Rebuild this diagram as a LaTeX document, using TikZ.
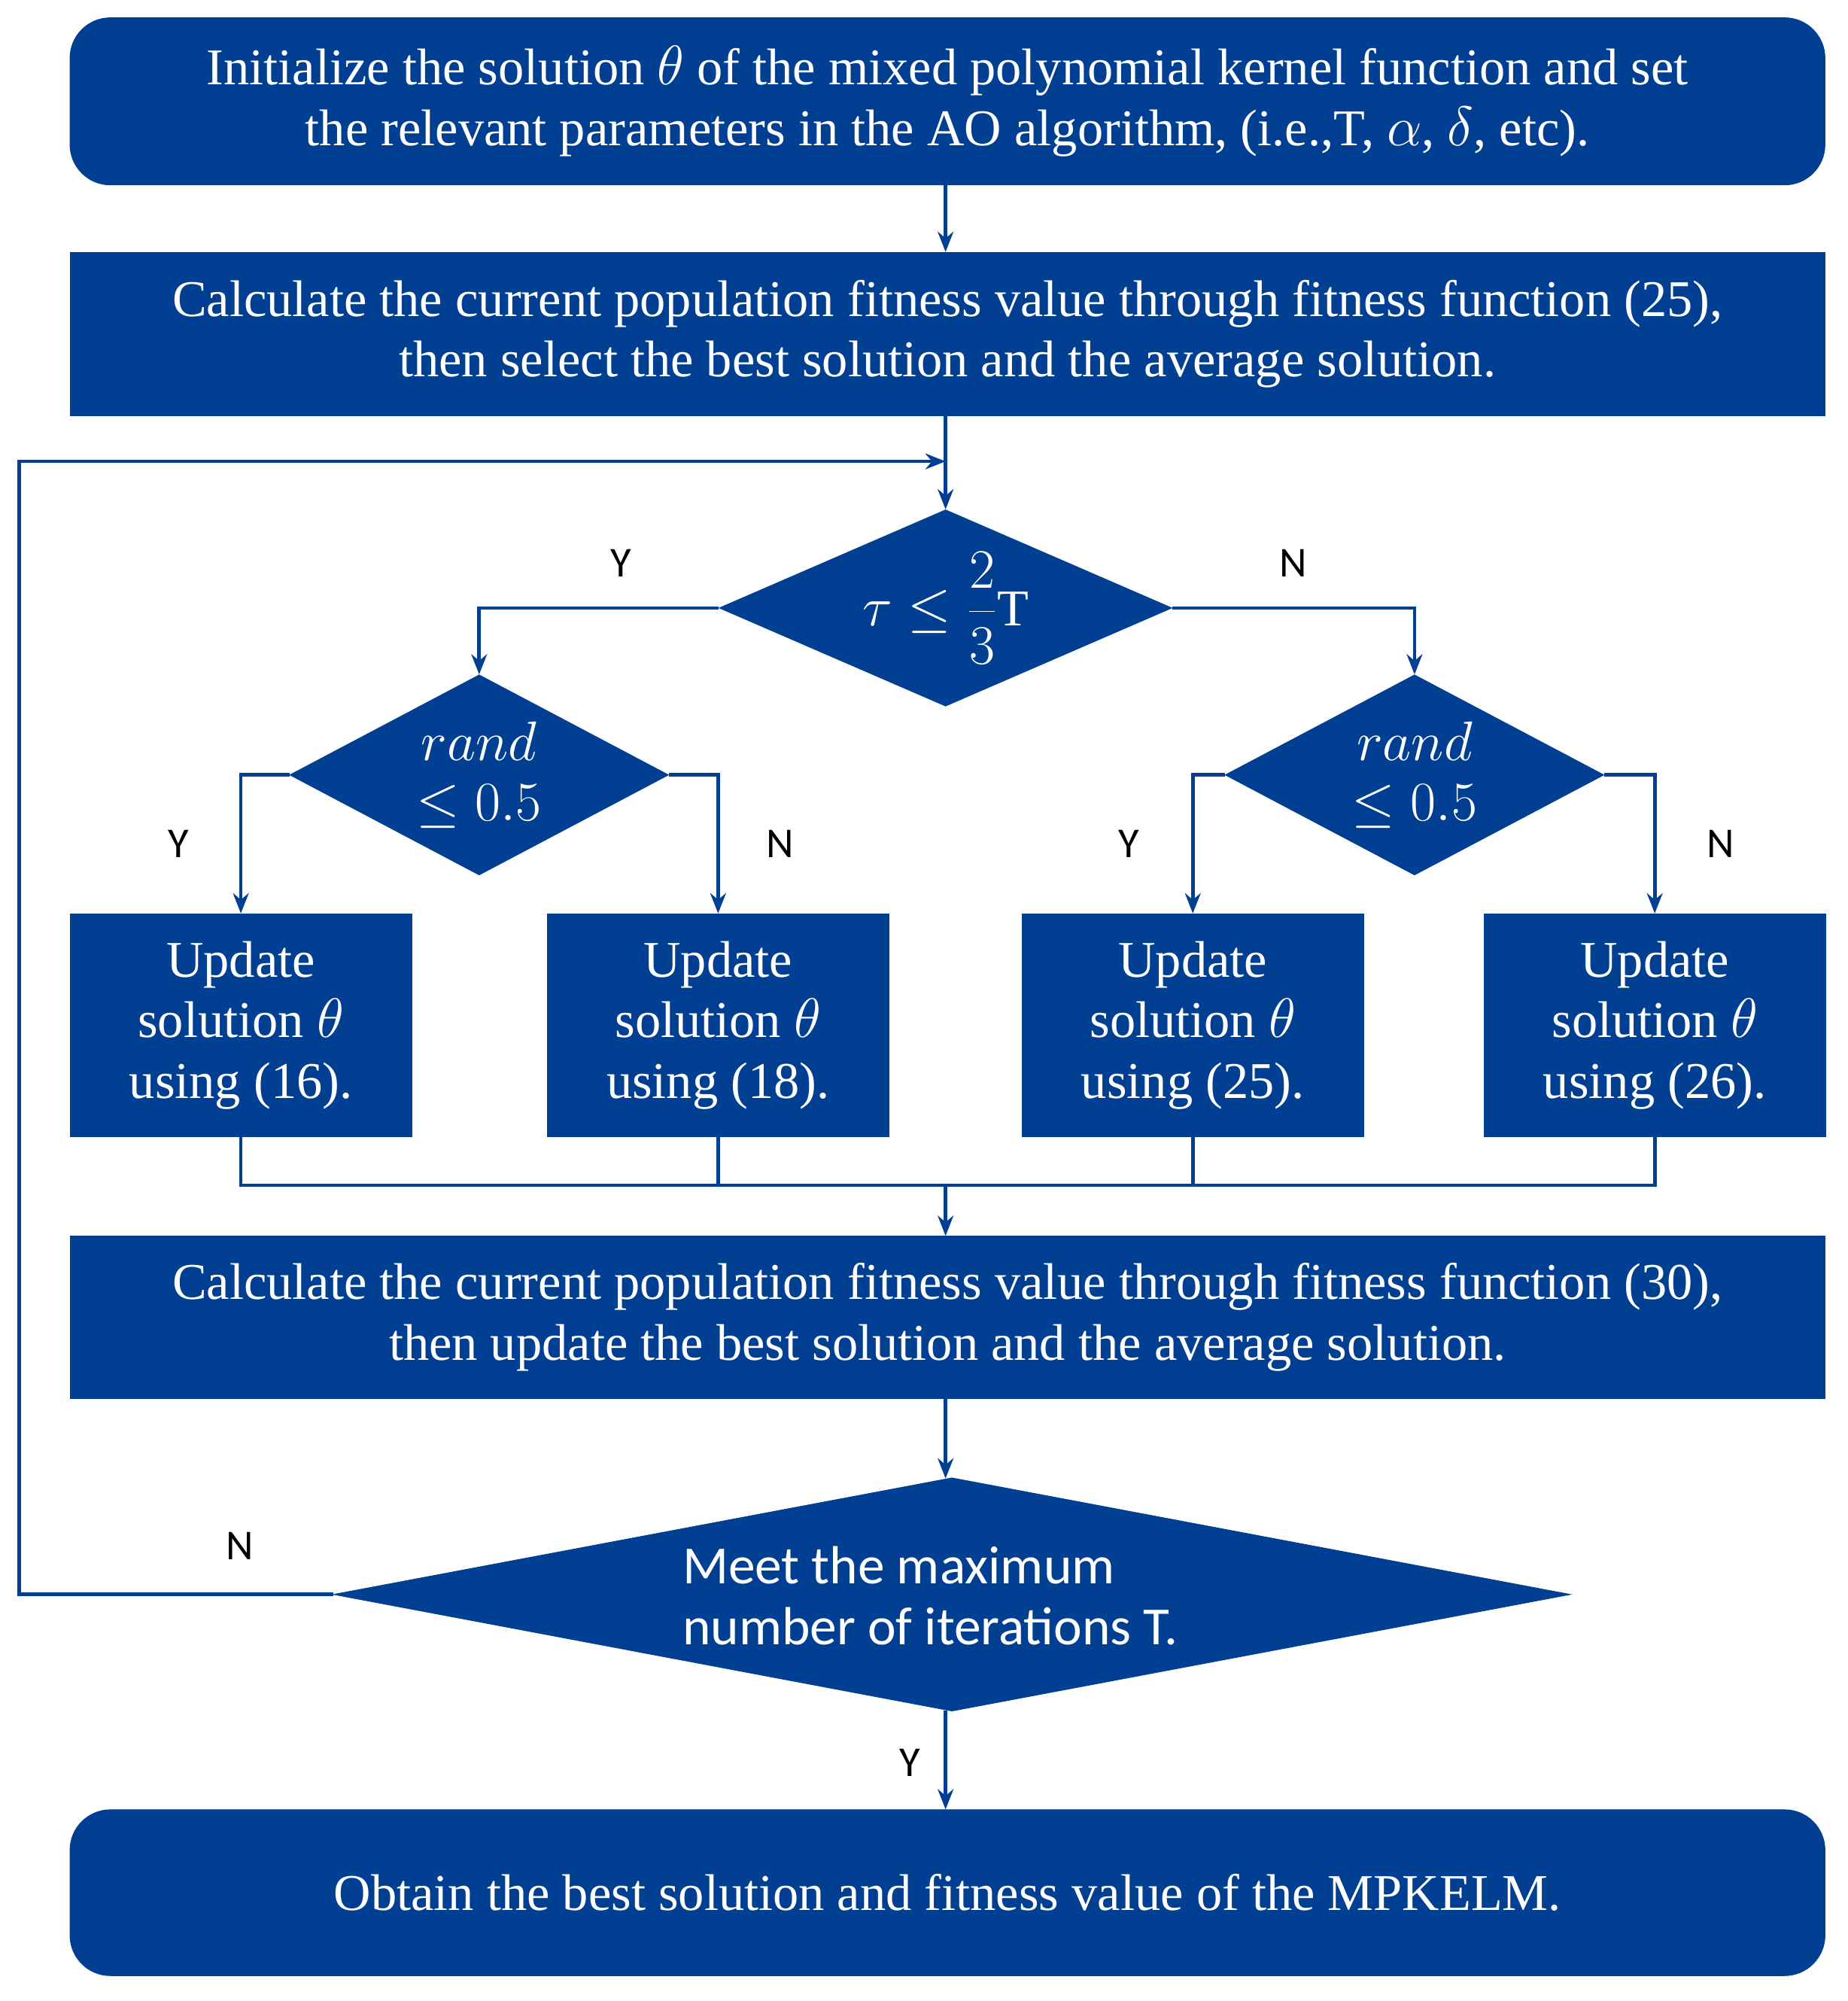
\documentclass[tikz,border=0pt]{standalone}
\usepackage{fontspec}
\setmainfont{Liberation Serif}
\newfontfamily\sansf{Carlito}
\usetikzlibrary{shapes.geometric,arrows.meta}
\definecolor{db}{HTML}{003F91}
\begin{document}
\begin{tikzpicture}[x=0.02cm,y=-0.02cm,
  box/.style={fill=db,draw=db,text=white,inner sep=0,align=center,font=\fontsize{23}{27}\selectfont},
  dia/.style={diamond,fill=db,draw=db,text=white,inner sep=0,aspect=1,align=center},
  lbl/.style={font=\sansf\fontsize{19}{22}\selectfont},
  ln/.style={draw=db,line width=1.6pt},
  ar/.style={ln,-{Stealth[length=9pt,width=7pt]}}]
\useasboundingbox (0,0) rectangle (1450,1570);
\node[box,rounded corners=18pt,minimum width=1377*0.02cm,minimum height=131*0.02cm] (b1) at (743.5,79.5) {Initialize the solution $\theta$ of the mixed polynomial kernel function and set\\the relevant parameters in the AO algorithm, (i.e.,T, $\alpha$, $\delta$, etc).};
\node[box,minimum width=1377*0.02cm,minimum height=128*0.02cm] (b2) at (743.5,262) {Calculate the current population fitness value through fitness function (25),\\then select the best solution and the average solution.};
\node[dia,minimum width=355*0.02cm,minimum height=154*0.02cm] (d1) at (742,477) {};
\node[text=white,font=\fontsize{23}{27}\selectfont] at (742,477) {$\tau \le \displaystyle\frac{2}{3}$T};
\node[dia,minimum width=297*0.02cm,minimum height=157*0.02cm] (d2) at (376,608) {};
\node[dia,minimum width=297*0.02cm,minimum height=157*0.02cm] (d3) at (1110,608) {};
\foreach \n/\x in {a/376,b/1110}
  \node[text=white,align=center,font=\fontsize{23}{27}\selectfont] at (\x,608) {$rand$\\$\le 0.5$};
\foreach \n/\x/\t in {u1/189/16,u2/563.5/18,u3/936/25,u4/1298.5/26}
  \node[box,minimum width=268*0.02cm,minimum height=175*0.02cm] (\n) at (\x,804.5) {Update\\solution $\theta$\\using (\t).};
\node[box,minimum width=1377*0.02cm,minimum height=127*0.02cm] (b3) at (743.5,1033.5) {Calculate the current population fitness value through fitness function (30),\\then update the best solution and the average solution.};
\node[dia,minimum width=970*0.02cm,minimum height=183*0.02cm] (d4) at (747,1251) {};
\node[text=white,align=left,font=\sansf\fontsize{24}{27}\selectfont] at (730,1252) {Meet the maximum\\number of iterations T.};
\node[box,rounded corners=18pt,minimum width=1377*0.02cm,minimum height=130*0.02cm] (b4) at (743.5,1485) {Obtain the best solution and fitness value of the MPKELM.};
\coordinate (j) at (742,362);
\coordinate (m) at (742,930);
\draw[ar] (b1.south -| 742,0) -- (b2.north -| 742,0);
\draw[ln] (b2.south -| 742,0) -- (j);
\draw[ar] (j) -- (d1.north);
\draw[ar] (d1.west) -| (d2.north);
\draw[ar] (d1.east) -| (d3.north);
\draw[ar] (d2.west) -| (u1.north);
\draw[ar] (d2.east) -| (u2.north);
\draw[ar] (d3.west) -| (u3.north);
\draw[ar] (d3.east) -| (u4.north);
\draw[ln] (u1.south) |- (m) (u2.south) |- (m) (u3.south) |- (m) (u4.south) |- (m);
\draw[ar] (m) -- (b3.north -| 742,0);
\draw[ar] (b3.south -| 742,0) -- (742,1160);
\draw[ar] (d4.west) -- (15,1251) -- (15,362) -- (j);
\draw[ar] (742,1342) -- (b4.north -| 742,0);
\node[lbl] at (487,442) {Y};
\node[lbl] at (1015,442) {N};
\node[lbl] at (140,662) {Y};
\node[lbl] at (612,662) {N};
\node[lbl] at (886,662) {Y};
\node[lbl] at (1350,662) {N};
\node[lbl] at (188,1213) {N};
\node[lbl] at (714,1383) {Y};
\end{tikzpicture}
\end{document}
